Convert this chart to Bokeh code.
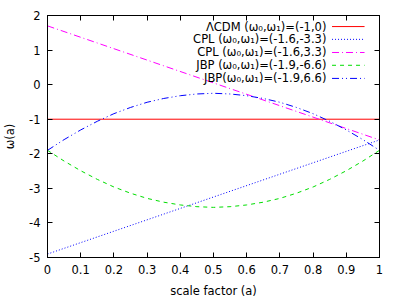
from bokeh.plotting import figure
from bokeh.models import LinearAxis, Label, Range1d, FixedTicker
from bokeh.embed import file_html
from bokeh.resources import INLINE

# ---- data ----
a_lin = [0.0, 1.0]
lcdm = [-1.0, -1.0]
cpl_neg = [-4.9, -1.6]
cpl_pos = [1.7, -1.6]

a_jbp = [0.0, 0.05, 0.1, 0.15, 0.2, 0.25, 0.3, 0.35, 0.4, 0.45, 0.5,
         0.55, 0.6, 0.65, 0.7, 0.75, 0.8, 0.85, 0.9, 0.95, 1.0]
jbp_neg = [-1.90, -2.21, -2.49, -2.74, -2.96, -3.14, -3.29, -3.40, -3.48, -3.53, -3.55,
           -3.53, -3.48, -3.40, -3.29, -3.14, -2.96, -2.74, -2.49, -2.21, -1.90]
jbp_pos = [-1.90, -1.59, -1.31, -1.06, -0.84, -0.66, -0.51, -0.40, -0.32, -0.27, -0.25,
           -0.27, -0.32, -0.40, -0.51, -0.66, -0.84, -1.06, -1.31, -1.59, -1.90]

x_ticks = [0, 0.1, 0.2, 0.3, 0.4, 0.5, 0.6, 0.7, 0.8, 0.9, 1]
x_tick_labels = ["0", "0.1", "0.2", "0.3", "0.4", "0.5", "0.6", "0.7", "0.8", "0.9", "1"]
y_ticks = [-5, -4, -3, -2, -1, 0, 1, 2]
y_tick_labels = ["-5", "-4", "-3", "-2", "-1", "0", "1", "2"]

legend_labels = ["ΛCDM (ω₀,ω₁)=(-1,0)",
                 "CPL (ω₀,ω₁)=(-1.6,-3.3)",
                 "CPL (ω₀,ω₁)=(-1.6,3.3)",
                 "JBP (ω₀,ω₁)=(-1.9,-6.6)",
                 "JBP(ω₀,ω₁)=(-1.9,6.6)"]

FONT = "DejaVu Sans"
FS = "11.5px"

p = figure(width=400, height=300, output_backend="svg", toolbar_location=None,
           x_range=Range1d(0, 1), y_range=Range1d(-5, 2),
           min_border_left=45, min_border_right=21, min_border_top=15, min_border_bottom=41,
           x_axis_label="scale factor (a)", y_axis_label="ω(a)")
p.xgrid.visible = False
p.ygrid.visible = False
p.outline_line_color = "black"
p.outline_line_width = 1
p.background_fill_color = "white"
p.border_fill_color = "white"

def style_axis(ax, ticks, labels, show_labels):
    ax.ticker = FixedTicker(ticks=ticks)
    ax.major_tick_in = 5
    ax.major_tick_out = 0
    ax.minor_tick_in = 0
    ax.minor_tick_out = 0
    ax.axis_line_color = "black"
    ax.major_tick_line_color = "black"
    ax.major_label_text_font = FONT
    ax.major_label_text_font_size = FS
    ax.major_label_text_color = "black"
    ax.axis_label_text_font = FONT
    ax.axis_label_text_font_size = FS
    ax.axis_label_text_font_style = "normal"
    ax.axis_label_text_color = "black"
    if show_labels:
        ax.major_label_overrides = {t: l for t, l in zip(ticks, labels)}
    else:
        ax.major_label_overrides = {t: "" for t in ticks}
        ax.major_label_standoff = 0
        ax.major_label_text_font_size = "0px"

xa = p.xaxis[0]
ya = p.yaxis[0]
style_axis(xa, x_ticks, x_tick_labels, True)
style_axis(ya, y_ticks, y_tick_labels, True)
xa.major_label_standoff = 7
xa.axis_label_standoff = 7
ya.major_label_standoff = 7
ya.axis_label_standoff = 9

top = LinearAxis()
right = LinearAxis()
style_axis(top, x_ticks, x_tick_labels, False)
style_axis(right, y_ticks, y_tick_labels, False)
p.add_layout(top, "above")
p.add_layout(right, "right")

styles = [
    dict(color="#ff0000", dash="solid"),
    dict(color="#0000ff", dash="1 2"),
    dict(color="#ff00ff", dash="7 3 1 3"),
    dict(color="#00dd00", dash="4 4"),
    dict(color="#0000ff", dash="7 3 1 3 1 3"),
]
series = [(a_lin, lcdm), (a_lin, cpl_neg), (a_lin, cpl_pos), (a_jbp, jbp_neg), (a_jbp, jbp_pos)]

for (xs, ys), st in zip(series, styles):
    p.line(xs, ys, line_color=st["color"], line_dash=st["dash"], line_width=1)

# gnuplot-style legend: right-aligned text with sample line to its right
leg_text_x = 0.84
leg_x0, leg_x1 = 0.857, 0.955
leg_y = [1.68, 1.31, 0.93, 0.56, 0.18]
for lab, yy, st in zip(legend_labels, leg_y, styles):
    p.add_layout(Label(x=leg_text_x, y=yy, text=lab, text_align="right",
                       text_baseline="middle", text_font=FONT, text_font_size=FS,
                       text_color="black"))
    p.line([leg_x0, leg_x1], [yy, yy], line_color=st["color"], line_dash=st["dash"], line_width=1)

open("out.html", "w").write(file_html(p, INLINE))
